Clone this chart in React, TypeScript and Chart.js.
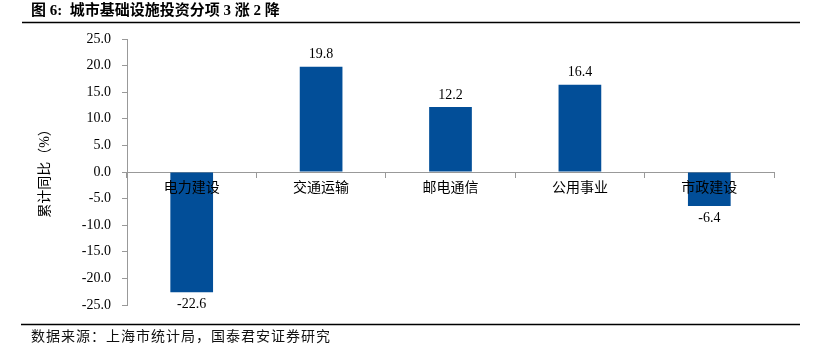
import React, { useEffect, useRef } from "react";
import { Chart, registerables } from "chart.js";

Chart.register(...registerables);

const categories = ["电力建设", "交通运输", "邮电通信", "公用事业", "市政建设"];
const values = [-22.6, 19.8, 12.2, 16.4, -6.4];
const yTickMin = -25;
const yTickMax = 25;
const yTickStep = 5;
const titleText = "图 6:  城市基础设施投资分项 3 涨 2 降";
const yAxisTitle = "累计同比（%）";
const sourceText = "数据来源：上海市统计局，国泰君安证券研究";

const SERIF = '"Liberation Serif", "Noto Sans CJK SC", serif';
const BAR_COLOR = "#024E98";

const decorPlugin = {
  id: "decor",
  afterDraw(chart: any) {
    const ctx = chart.ctx;
    ctx.save();
    // title
    ctx.fillStyle = "#000";
    ctx.font = `bold 15px ${SERIF}`;
    ctx.textBaseline = "middle";
    ctx.textAlign = "left";
    ctx.fillText(titleText, 31, 11);
    ctx.strokeStyle = "#000";
    ctx.lineWidth = 1.5;
    ctx.beginPath();
    ctx.moveTo(22, 22.5);
    ctx.lineTo(800, 22.5);
    ctx.stroke();
    // footer
    ctx.lineWidth = 1.5;
    ctx.beginPath();
    ctx.moveTo(21, 324.5);
    ctx.lineTo(800, 324.5);
    ctx.stroke();
    ctx.font = `14px ${SERIF}`;
    (ctx as any).letterSpacing = "1px";
    ctx.fillStyle = "#111";
    ctx.fillText(sourceText, 31, 337);
    (ctx as any).letterSpacing = "0px";
    // y axis title
    ctx.save();
    ctx.translate(45, 170);
    ctx.rotate(-Math.PI / 2);
    ctx.textAlign = "center";
    ctx.font = `14px ${SERIF}`;
    ctx.fillStyle = "#000";
    ctx.fillText(yAxisTitle, 0, 0);
    ctx.restore();
    // data labels
    const meta = chart.getDatasetMeta(0);
    ctx.font = `14px ${SERIF}`;
    ctx.textAlign = "center";
    ctx.fillStyle = "#000";
    meta.data.forEach((bar: any, i: number) => {
      const v = values[i];
      if (v >= 0) {
        ctx.textBaseline = "bottom";
        ctx.fillText(v.toFixed(1), bar.x, bar.y - 5);
      } else {
        ctx.textBaseline = "top";
        ctx.fillText(v.toFixed(1), bar.x, bar.y + 5);
      }
    });
    ctx.restore();
  },
};

export default function App() {
  const ref = useRef<HTMLCanvasElement | null>(null);
  useEffect(() => {
    document.body.style.margin = "0";
    const chart = new Chart(ref.current as HTMLCanvasElement, {
      type: "bar",
      data: {
        labels: categories,
        datasets: [
          {
            data: values,
            backgroundColor: BAR_COLOR,
            barPercentage: 0.33,
            categoryPercentage: 1,
          },
        ],
      },
      options: {
        animation: false,
        responsive: false,
        maintainAspectRatio: false,
        layout: { padding: { left: 0, top: 39, right: 46, bottom: 46 } },
        plugins: { legend: { display: false }, tooltip: { enabled: false } },
        scales: {
          x: {
            position: { y: 0 } as any,
            offset: true,
            grid: {
              offset: true,
              drawOnChartArea: false,
              drawTicks: true,
              tickLength: 5,
              color: "#999",
            },
            border: { color: "#999", width: 1 },
            ticks: {
              z: 1,
              color: "#000",
              font: { family: SERIF, size: 14 },
              padding: 3,
            },
          },
          y: {
            min: yTickMin,
            max: yTickMax,
            afterFit: (scale: any) => {
              scale.width = 127;
            },
            grid: {
              drawOnChartArea: false,
              drawTicks: true,
              tickLength: 5,
              color: "#999",
            },
            border: { color: "#999", width: 1 },
            ticks: {
              stepSize: yTickStep,
              color: "#000",
              font: { family: SERIF, size: 14 },
              padding: 11,
              callback: (v: any) => Number(v).toFixed(1),
            },
          },
        },
      },
      plugins: [decorPlugin],
    });
    return () => chart.destroy();
  }, []);
  return (
    <div style={{ position: "absolute", left: 0, top: 0, width: 820, height: 351, background: "#fff" }}>
      <canvas ref={ref} width={820} height={351} style={{ display: "block" }} />
    </div>
  );
}
